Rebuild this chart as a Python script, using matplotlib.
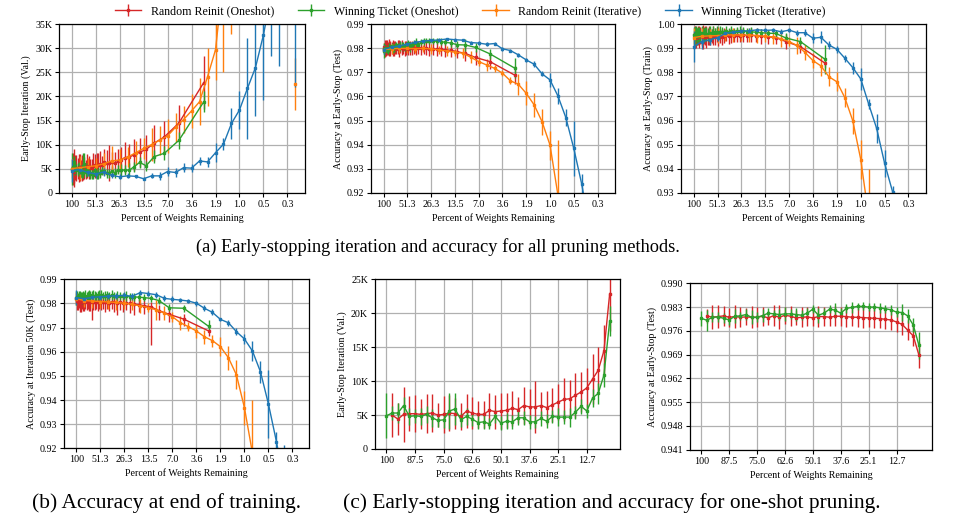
import numpy as np
import matplotlib
matplotlib.use("Agg")
import matplotlib.pyplot as plt

plt.rcParams['font.family'] = ['Liberation Serif', 'DejaVu Serif']

# ---------------- x categories ----------------
iter_round = np.arange(29)                      # iterative pruning rounds
oneshot_pct = np.arange(100, 0, -2.5)           # one-shot: percent of fc weights kept (k = 0..39)
top_tick_labels = ['100', '51.3', '26.3', '13.5', '7.0', '3.6', '1.9', '1.0', '0.5', '0.3']
os_tick_labels = ['100', '87.5', '75.0', '62.6', '50.1', '37.6', '25.1', '12.7']

# ---------------- one-shot series (red from k=1, green from k=0) ----------------
red_es = [5.0, 4.4, 5.1, 5.2, 5.2, 5.1, 5.2, 5.3, 5.0, 5.1, 5.3, 5.2, 4.8, 5.6, 5.3, 5.1, 5.1, 5.7, 5.5, 5.6,
          5.7, 6.0, 5.8, 6.4, 6.2, 6.2, 6.4, 6.1, 6.5, 6.9, 7.3, 7.4, 7.9, 8.4, 9.0, 10.3, 11.6, 14.5, 22.9]
red_es_err = [3.3, 2.4, 4.0, 2.6, 2.7, 2.2, 2.9, 2.8, 1.8, 2.7, 2.7, 2.3, 2.0, 2.5, 2.4, 2.0, 2.0, 2.5, 2.5, 2.6,
              2.6, 2.6, 1.9, 2.7, 2.6, 3.8, 2.0, 2.4, 2.5, 2.7, 3.2, 2.8, 3.3, 3.0, 3.0, 3.7, 3.4, 3.7, 5.5]
green_es = [4.9, 5.3, 5.3, 6.4, 4.8, 4.9, 4.8, 5.1, 4.6, 4.2, 4.3, 5.6, 5.9, 4.3, 4.8, 4.4, 3.9, 4.0, 3.7, 4.8,
            3.8, 4.1, 4.0, 4.6, 4.6, 4.0, 4.0, 4.5, 4.1, 4.8, 4.7, 4.7, 4.7, 5.4, 6.3, 5.6, 7.5, 8.2, 10.9, 18.9]
green_es_err = [3.3, 1.0, 1.5, 1.2, 1.2, 1.0, 1.3, 1.2, 1.3, 1.0, 1.2, 2.6, 2.3, 1.0, 1.3, 1.0, 1.0, 1.1, 0.8, 1.0,
                1.0, 1.2, 1.0, 1.0, 1.0, 1.0, 0.9, 1.1, 1.0, 1.0, 1.3, 1.0, 1.4, 1.0, 1.1, 1.0, 1.3, 1.5, 1.8, 2.2]

red_test = [0.9804, 0.9800, 0.9802, 0.9804, 0.9800, 0.9802, 0.9800, 0.9801, 0.9800, 0.9800,
            0.9803, 0.9798, 0.9805, 0.9800, 0.9806, 0.9803, 0.9798, 0.9800, 0.9801, 0.9798,
            0.9802, 0.9802, 0.9800, 0.9803, 0.9803, 0.9802, 0.9800, 0.9800, 0.9799, 0.9798,
            0.9797, 0.9796, 0.9794, 0.9792, 0.9786, 0.9779, 0.9762, 0.9745, 0.9689]
red_test_err = [0.0020, 0.0035, 0.0033, 0.0030, 0.0028, 0.0035, 0.0030, 0.0025, 0.0033, 0.0030,
                0.0028, 0.0020, 0.0030, 0.0035, 0.0025, 0.0030, 0.0022, 0.0030, 0.0028, 0.0025,
                0.0030, 0.0028, 0.0025, 0.0030, 0.0028, 0.0030, 0.0025, 0.0028, 0.0030, 0.0027,
                0.0030, 0.0028, 0.0030, 0.0030, 0.0028, 0.0030, 0.0030, 0.0030, 0.0038]
green_test = [0.9797, 0.9791, 0.9800, 0.9801, 0.9797, 0.9792, 0.9803, 0.9804, 0.9808, 0.9800,
              0.9800, 0.9805, 0.9812, 0.9810, 0.9808, 0.9810, 0.9810, 0.9808, 0.9806, 0.9812,
              0.9824, 0.9806, 0.9812, 0.9824, 0.9821, 0.9812, 0.9826, 0.9829, 0.9832, 0.9832,
              0.9830, 0.9830, 0.9828, 0.9825, 0.9822, 0.9815, 0.9814, 0.9804, 0.9777, 0.9718]
green_test_err = [0.0022, 0.0030, 0.0015, 0.0015, 0.0015, 0.0015, 0.0020, 0.0012, 0.0015, 0.0020,
                  0.0015, 0.0018, 0.0015, 0.0012, 0.0015, 0.0020, 0.0015, 0.0018, 0.0015, 0.0015,
                  0.0012, 0.0022, 0.0015, 0.0012, 0.0022, 0.0015, 0.0012, 0.0015, 0.0010, 0.0012,
                  0.0012, 0.0012, 0.0015, 0.0012, 0.0015, 0.0015, 0.0025, 0.0020, 0.0020, 0.0040]

red_train = [0.9952, 0.9958, 0.9945, 0.9950, 0.9955, 0.9948, 0.9953, 0.9950, 0.9947, 0.9955,
             0.9952, 0.9946, 0.9950, 0.9954, 0.9949, 0.9951, 0.9953, 0.9948, 0.9955, 0.9950,
             0.9952, 0.9947, 0.9953, 0.9956, 0.9950, 0.9954, 0.9952, 0.9955, 0.9951, 0.9956,
             0.9953, 0.9955, 0.9952, 0.9950, 0.9948, 0.9945, 0.9928, 0.9907, 0.9838]
red_train_err = [0.0040, 0.0035, 0.0045, 0.0035, 0.0040, 0.0045, 0.0035, 0.0040, 0.0050, 0.0035,
                 0.0040, 0.0045, 0.0035, 0.0040, 0.0035, 0.0030, 0.0040, 0.0035, 0.0030, 0.0040,
                 0.0030, 0.0035, 0.0030, 0.0025, 0.0030, 0.0030, 0.0025, 0.0030, 0.0025, 0.0030,
                 0.0025, 0.0030, 0.0025, 0.0030, 0.0030, 0.0025, 0.0030, 0.0025, 0.0020]
green_train = [0.9955, 0.9948, 0.9958, 0.9962, 0.9950, 0.9957, 0.9960, 0.9953, 0.9962, 0.9958,
               0.9955, 0.9963, 0.9960, 0.9957, 0.9965, 0.9962, 0.9960, 0.9966, 0.9963, 0.9968,
               0.9965, 0.9968, 0.9970, 0.9967, 0.9971, 0.9969, 0.9972, 0.9970, 0.9973, 0.9971,
               0.9972, 0.9970, 0.9969, 0.9967, 0.9965, 0.9963, 0.9962, 0.9943, 0.9928, 0.9854]
green_train_err = [0.0035, 0.0040, 0.0030, 0.0030, 0.0035, 0.0030, 0.0030, 0.0025, 0.0030, 0.0025,
                   0.0030, 0.0025, 0.0030, 0.0025, 0.0025, 0.0030, 0.0020, 0.0025, 0.0020, 0.0025,
                   0.0020, 0.0025, 0.0020, 0.0015, 0.0020, 0.0015, 0.0020, 0.0015, 0.0015, 0.0020,
                   0.0015, 0.0015, 0.0020, 0.0015, 0.0015, 0.0015, 0.0015, 0.0020, 0.0020, 0.0060]

red_50k = [0.9812, 0.9808, 0.9810, 0.9806, 0.9811, 0.9808, 0.9805, 0.9810, 0.9807, 0.9809,
           0.9806, 0.9808, 0.9805, 0.9810, 0.9804, 0.9807, 0.9806, 0.9808, 0.9805, 0.9806,
           0.9808, 0.9804, 0.9806, 0.9803, 0.9805, 0.9806, 0.9802, 0.9804, 0.9800, 0.9801,
           0.9800, 0.9797, 0.9795, 0.9790, 0.9786, 0.9770, 0.9755, 0.9735, 0.9686]
red_50k_lo = [0.0040, 0.0035, 0.0030, 0.0040, 0.0045, 0.0030, 0.0035, 0.0040, 0.0030, 0.0035,
              0.0030, 0.0040, 0.0035, 0.0080, 0.0030, 0.0035, 0.0030, 0.0040, 0.0030, 0.0035,
              0.0030, 0.0040, 0.0030, 0.0035, 0.0030, 0.0040, 0.0050, 0.0030, 0.0035, 0.0030,
              0.0040, 0.0045, 0.0030, 0.0035, 0.0160, 0.0040, 0.0030, 0.0030, 0.0020]
red_50k_hi = [0.0025, 0.0030, 0.0025, 0.0030, 0.0025, 0.0030, 0.0030, 0.0025, 0.0030, 0.0025,
              0.0030, 0.0025, 0.0030, 0.0025, 0.0030, 0.0025, 0.0030, 0.0025, 0.0030, 0.0025,
              0.0030, 0.0025, 0.0030, 0.0025, 0.0030, 0.0025, 0.0030, 0.0025, 0.0030, 0.0025,
              0.0025, 0.0025, 0.0025, 0.0025, 0.0020, 0.0025, 0.0025, 0.0020, 0.0010]
green_50k = [0.9822, 0.9828, 0.9825, 0.9830, 0.9826, 0.9829, 0.9824, 0.9831, 0.9827, 0.9830,
             0.9828, 0.9832, 0.9829, 0.9831, 0.9833, 0.9830, 0.9832, 0.9829, 0.9833, 0.9831,
             0.9834, 0.9832, 0.9830, 0.9833, 0.9831, 0.9834, 0.9832, 0.9830, 0.9831, 0.9829,
             0.9830, 0.9828, 0.9827, 0.9826, 0.9824, 0.9821, 0.9812, 0.9782, 0.9780, 0.9705]
green_50k_err = [0.0030, 0.0025, 0.0020, 0.0020, 0.0025, 0.0020, 0.0025, 0.0020, 0.0020, 0.0025,
                 0.0020, 0.0020, 0.0025, 0.0020, 0.0020, 0.0025, 0.0020, 0.0020, 0.0020, 0.0025,
                 0.0020, 0.0015, 0.0020, 0.0020, 0.0015, 0.0020, 0.0015, 0.0020, 0.0015, 0.0015,
                 0.0020, 0.0015, 0.0015, 0.0015, 0.0015, 0.0015, 0.0015, 0.0015, 0.0015, 0.0025]

# ---------------- iterative series (j = 0..28; nan = no value plotted) ----------------
blue_es = [4.6, 4.8, 4.2, 3.9, 4.3, 3.6, 3.3, 3.5, 3.4, 2.9, 3.5, 3.5, 4.4, 4.2, 5.2, 5.1, 6.6, 6.4, 8.3, 10.1,
           14.4, 17.2, 21.7, 26.0, 32.8, 41.5, 45.0, 55.0, 42.0]
blue_es_err = [2.4, 1.0, 0.8, 0.9, 0.8, 0.6, 0.5, 0.5, 0.3, 0.3, 0.5, 0.8, 0.9, 0.9, 1.0, 0.9, 0.9, 1.0, 2.0, 1.2,
               3.2, 4.0, 10.5, 10.0, 13.5, 13.0, 18.6, 5.0, 20.0]
orange_es = [5.0, 5.2, 5.4, 5.6, 6.0, 6.6, 6.8, 7.4, 8.3, 9.2, 10.0, 10.9, 11.8, 13.6, 15.2, 17.0, 18.9, 24.1, 29.7, 45.0,
             55.0, 60.0, 60.0, 60.0, 60.0, 60.0, 60.0, np.nan, 22.5]
orange_es_err = [2.0, 2.5, 1.8, 1.6, 2.2, 3.1, 2.2, 2.0, 2.5, 2.2, 3.5, 3.0, 3.5, 3.0, 2.8, 3.5, 4.9, 6.0, 6.2, 20.0,
                 22.0, 5.0, 5.0, 5.0, 5.0, 5.0, 5.0, 0.0, 5.4]

blue_test = [0.9795, 0.9805, 0.9810, 0.9818, 0.9825, 0.9830, 0.9833, 0.9835, 0.9839, 0.9836,
             0.9834, 0.9824, 0.9822, 0.9817, 0.9820, 0.9798, 0.9791, 0.9773, 0.9752, 0.9734,
             0.9694, 0.9669, 0.9602, 0.9512, 0.9384, 0.9236, 0.9050, 0.8900, 0.8800]
blue_test_err = [0.0020, 0.0010, 0.0008, 0.0008, 0.0007, 0.0006, 0.0006, 0.0006, 0.0005, 0.0005,
                 0.0005, 0.0006, 0.0008, 0.0008, 0.0008, 0.0008, 0.0008, 0.0008, 0.0008, 0.0012,
                 0.0010, 0.0030, 0.0035, 0.0035, 0.0115, 0.0040, 0.0150, 0.0100, 0.0100]
orange_test = [0.9795, 0.9798, 0.9800, 0.9800, 0.9799, 0.9800, 0.9798, 0.9793, 0.9789, 0.9784,
               0.9780, 0.9763, 0.9745, 0.9731, 0.9717, 0.9697, 0.9665, 0.9651, 0.9613, 0.9565,
               0.9495, 0.9398, 0.9190, 0.8900, 0.8700, 0.8600, 0.8600, 0.8600, 0.8600]
orange_test_err = [0.0015, 0.0020, 0.0020, 0.0018, 0.0020, 0.0015, 0.0020, 0.0015, 0.0020, 0.0015,
                   0.0020, 0.0025, 0.0020, 0.0025, 0.0015, 0.0012, 0.0015, 0.0043, 0.0050, 0.0050,
                   0.0055, 0.0060, 0.0230, 0.0200, 0.0200, 0.0200, 0.0200, 0.0200, 0.0200]

blue_train = [0.9907, 0.9928, 0.9935, 0.9945, 0.9962, 0.9968, 0.9972, 0.9973, 0.9977, 0.9975,
              0.9976, 0.9969, 0.9976, 0.9965, 0.9965, 0.9942, 0.9946, 0.9914, 0.9896, 0.9859,
              0.9820, 0.9773, 0.9668, 0.9567, 0.9422, 0.9304, 0.9150, 0.9000, 0.8900]
blue_train_err = [0.0065, 0.0030, 0.0020, 0.0015, 0.0012, 0.0010, 0.0010, 0.0010, 0.0008, 0.0008,
                  0.0010, 0.0010, 0.0010, 0.0012, 0.0015, 0.0020, 0.0025, 0.0015, 0.0015, 0.0015,
                  0.0025, 0.0045, 0.0020, 0.0060, 0.0055, 0.0025, 0.0100, 0.0100, 0.0100]
orange_train = [0.9945, 0.9950, 0.9952, 0.9953, 0.9955, 0.9956, 0.9955, 0.9955, 0.9953, 0.9950,
                0.9948, 0.9940, 0.9928, 0.9912, 0.9883, 0.9849, 0.9827, 0.9782, 0.9761, 0.9695,
                0.9599, 0.9438, 0.9200, 0.9000, 0.8900, 0.8800, 0.8800, 0.8800, 0.8800]
orange_train_err = [0.0040, 0.0035, 0.0030, 0.0030, 0.0025, 0.0030, 0.0025, 0.0030, 0.0030, 0.0025,
                    0.0030, 0.0035, 0.0020, 0.0035, 0.0030, 0.0030, 0.0040, 0.0040, 0.0040, 0.0040,
                    0.0055, 0.0080, 0.0200, 0.0200, 0.0200, 0.0200, 0.0200, 0.0200, 0.0200]

blue_50k = [0.9824, 0.9820, 0.9825, 0.9828, 0.9830, 0.9832, 0.9833, 0.9830, 0.9845, 0.9841,
            0.9836, 0.9821, 0.9817, 0.9814, 0.9810, 0.9801, 0.9780, 0.9763, 0.9734, 0.9720,
            0.9683, 0.9653, 0.9603, 0.9517, 0.9383, 0.9227, 0.9050, 0.8900, 0.8800]
blue_50k_err = [0.0030, 0.0015, 0.0015, 0.0012, 0.0012, 0.0012, 0.0015, 0.0015, 0.0010, 0.0010,
                0.0012, 0.0012, 0.0012, 0.0010, 0.0010, 0.0010, 0.0012, 0.0012, 0.0005, 0.0012,
                0.0015, 0.0020, 0.0040, 0.0045, 0.0140, 0.0040, 0.0163, 0.0100, 0.0100]
orange_50k = [0.9820, 0.9812, 0.9810, 0.9808, 0.9806, 0.9804, 0.9801, 0.9796, 0.9790, 0.9783,
              0.9773, 0.9760, 0.9745, 0.9720, 0.9704, 0.9686, 0.9662, 0.9646, 0.9621, 0.9575,
              0.9504, 0.9368, 0.9180, 0.8900, 0.8800, 0.8700, 0.8700, 0.8700, 0.8700]
orange_50k_err = [0.0025, 0.0025, 0.0030, 0.0025, 0.0030, 0.0030, 0.0025, 0.0025, 0.0030, 0.0020,
                  0.0040, 0.0030, 0.0020, 0.0030, 0.0020, 0.0030, 0.0030, 0.0025, 0.0040, 0.0050,
                  0.0060, 0.0070, 0.0220, 0.0200, 0.0200, 0.0200, 0.0200, 0.0200, 0.0200]

# ---------------- styling ----------------
RED, GREEN, ORANGE, BLUE = '#d62728', '#2ca02c', '#ff7f0e', '#1f77b4'
LABELS = ['Random Reinit (Oneshot)', 'Winning Ticket (Oneshot)',
          'Random Reinit (Iterative)', 'Winning Ticket (Iterative)']
FS = 7.2

W, H = 956, 531
fig = plt.figure(figsize=(W / 100, H / 100), dpi=100)


def rect(x0, x1, ytop, ybot):
    return [x0 / W, 1 - ybot / H, (x1 - x0) / W, (ybot - ytop) / H]


def eb(ax, x, y, err, color, label=None):
    return ax.errorbar(x, y, yerr=err, color=color, lw=1.0, elinewidth=1.0, marker='s', ms=1.6,
                       capsize=0, label=label)


def style(ax, xlim, xticks, xlabels, ylim, yticks, ylabels, ylabel):
    ax.set_xlim(*xlim)
    ax.set_ylim(*ylim)
    ax.set_xticks(xticks)
    ax.set_xticklabels(xlabels)
    ax.set_yticks(yticks)
    ax.set_yticklabels(ylabels)
    ax.grid(True, color='#b0b0b0', lw=0.9)
    ax.set_axisbelow(True)
    ax.tick_params(labelsize=FS, length=3, width=0.8, direction='out', pad=2, color='black')
    ax.set_xlabel('Percent of Weights Remaining', fontsize=FS, labelpad=3)
    ax.set_ylabel(ylabel, fontsize=FS, labelpad=3)
    for s in ax.spines.values():
        s.set_linewidth(0.9)
        s.set_color('black')


pos_os = np.log(oneshot_pct / 100.0) / np.log(0.8)   # one-shot sparsity on the iteration axis
top_ticks = np.arange(0, 30, 3)
k_os = np.arange(len(oneshot_pct))
os_ticks = np.arange(0, 40, 5)

acc_ticks = np.round(np.arange(0.92, 0.9901, 0.01), 2)
train_ticks = np.round(np.arange(0.93, 1.0001, 0.01), 2)
es_ticks_a = np.arange(0, 36, 5)
es_ticks_c = np.arange(0, 26, 5)


def klabels(ticks):
    return ['0' if t == 0 else f'{int(t)}K' for t in ticks]


# (a) left: early-stop iteration
ax = fig.add_axes(rect(59.3, 305, 24.3, 192.7))
h1 = eb(ax, pos_os[1:], red_es, red_es_err, RED, LABELS[0])
h2 = eb(ax, pos_os, green_es, green_es_err, GREEN, LABELS[1])
h3 = eb(ax, iter_round, orange_es, orange_es_err, ORANGE, LABELS[2])
h4 = eb(ax, iter_round, blue_es, blue_es_err, BLUE, LABELS[3])
style(ax, (-1.55, 29.2), top_ticks, top_tick_labels, (0, 35), es_ticks_a, klabels(es_ticks_a),
      'Early-Stop Iteration (Val.)')

# (a) middle: test accuracy at early stop
ax = fig.add_axes(rect(371.3, 615, 24.3, 192.7))
eb(ax, pos_os[1:], red_test, red_test_err, RED)
eb(ax, pos_os, green_test, green_test_err, GREEN)
eb(ax, iter_round, orange_test, orange_test_err, ORANGE)
eb(ax, iter_round, blue_test, blue_test_err, BLUE)
style(ax, (-1.55, 29.2), top_ticks, top_tick_labels, (0.92, 0.99), acc_ticks,
      [f'{t:.2f}' for t in acc_ticks], 'Accuracy at Early-Stop (Test)')

# (a) right: train accuracy at early stop
ax = fig.add_axes(rect(681.3, 926, 24.3, 192.7))
eb(ax, pos_os[1:], red_train, red_train_err, RED)
eb(ax, pos_os, green_train, green_train_err, GREEN)
eb(ax, iter_round, orange_train, orange_train_err, ORANGE)
eb(ax, iter_round, blue_train, blue_train_err, BLUE)
style(ax, (-1.55, 29.2), top_ticks, top_tick_labels, (0.93, 1.0), train_ticks,
      [f'{t:.2f}' for t in train_ticks], 'Accuracy at Early-Stop (Train)')

# (b) accuracy at iteration 50K
ax = fig.add_axes(rect(64.3, 309.3, 279.3, 448.3))
ax.errorbar(pos_os[1:], red_50k, yerr=[red_50k_lo, red_50k_hi], color=RED, lw=1.0, elinewidth=1.0,
            marker='s', ms=1.6, capsize=0)
eb(ax, pos_os, green_50k, green_50k_err, GREEN)
eb(ax, iter_round, orange_50k, orange_50k_err, ORANGE)
eb(ax, iter_round, blue_50k, blue_50k_err, BLUE)
style(ax, (-1.5, 29.1), top_ticks, top_tick_labels, (0.92, 0.99), acc_ticks,
      [f'{t:.2f}' for t in acc_ticks], 'Accuracy at Iteration 50K (Test)')

# (c) left: one-shot early-stop iteration
ax = fig.add_axes(rect(375, 620, 279.3, 449))
eb(ax, k_os[1:], red_es, red_es_err, RED)
eb(ax, k_os, green_es, green_es_err, GREEN)
style(ax, (-2.0, 40.8), os_ticks, os_tick_labels, (0, 25), es_ticks_c, klabels(es_ticks_c),
      'Early-Stop Iteration (Val.)')

# (c) right: one-shot test accuracy
ax = fig.add_axes(rect(690.3, 931.7, 283.3, 449.7))
eb(ax, k_os[1:], red_test, red_test_err, RED)
eb(ax, k_os, green_test, green_test_err, GREEN)
c_ticks = np.round(np.arange(0.941, 0.9901, 0.007), 3)
style(ax, (-1.97, 41.3), os_ticks, os_tick_labels, (0.941, 0.990), c_ticks,
      [f'{t:.3f}' for t in c_ticks], 'Accuracy at Early-Stop (Test)')

fig.legend([h1, h2, h3, h4], LABELS, loc='center', bbox_to_anchor=(0.492, 1 - 11.5 / H), ncol=4,
           frameon=False, fontsize=8.6, handlelength=2.2, columnspacing=2.0, handletextpad=0.8)

fig.text(438 / W, 1 - 247 / H, '(a) Early-stopping iteration and accuracy for all pruning methods.',
         ha='center', va='center', fontsize=13.2)
fig.text(166 / W, 1 - 503 / H, '(b) Accuracy at end of training.', ha='center', va='center', fontsize=15.4)
fig.text(612 / W, 1 - 503 / H, '(c) Early-stopping iteration and accuracy for one-shot pruning.',
         ha='center', va='center', fontsize=15.4)

fig.savefig('out.png', dpi=100)
